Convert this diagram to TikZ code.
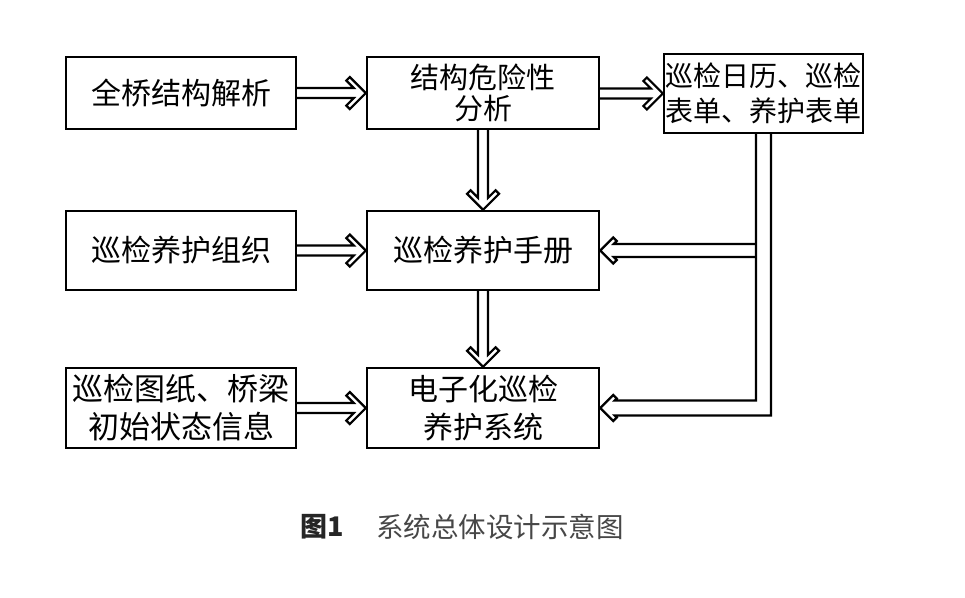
\documentclass[tikz,border=0pt]{standalone}
\usepackage{fontspec}
\newfontfamily\cjk{Noto Sans CJK SC}
\usetikzlibrary{calc}
\tikzset{
  box/.style={draw, line width=2.4pt, inner sep=0pt, align=center},
  arrline/.style={line width=2.2pt, line join=miter},
}
\newcommand\rarr[2]{%
\draw[arrline] ($(#1.east |- #2.west)+(0,-5)$) -- ($(#2.west)+(-12,-5)$) -- ($(#2.west)+(-19.5,-12.5)$) -- ($(#2.west)+(-16,-16)$) -- (#2.west) -- ($(#2.west)+(-16,16)$) -- ($(#2.west)+(-19.5,12.5)$) -- ($(#2.west)+(-12,5)$) -- ($(#1.east |- #2.west)+(0,5)$);}
\newcommand\darr[2]{%
\draw[arrline] ($(#1.south -| #2.north)+(-5,0)$) -- ($(#2.north)+(-5,-12)$) -- ($(#2.north)+(-12.5,-19.5)$) -- ($(#2.north)+(-16,-16)$) -- (#2.north) -- ($(#2.north)+(16,-16)$) -- ($(#2.north)+(12.5,-19.5)$) -- ($(#2.north)+(5,-12)$) -- ($(#1.south -| #2.north)+(5,0)$);}
\begin{document}
\begin{tikzpicture}[x=1pt,y=-1pt]
\useasboundingbox[fill=white] (0,0) rectangle (965,597);
\node[box, minimum width=230, minimum height=72, font=\cjk\fontsize{30}{31}\selectfont] (b1) at (181,93) {全桥结构解析};
\node[box, minimum width=232, minimum height=72, font=\cjk\fontsize{29}{31}\selectfont] (b2) at (483,93) {结构危险性\\分析};
\node[box, minimum width=199, minimum height=79, font=\cjk\fontsize{28}{35}\selectfont] (b3) at (763.5,93.5) {巡检日历、巡检\\表单、养护表单};
\node[box, minimum width=230, minimum height=79, font=\cjk\fontsize{30}{31}\selectfont] (b4) at (181,250.5) {巡检养护组织};
\node[box, minimum width=232, minimum height=79, font=\cjk\fontsize{30}{31}\selectfont] (b5) at (483,250.5) {巡检养护手册};
\node[box, minimum width=230, minimum height=80, font=\cjk\fontsize{31}{38}\selectfont] (b6) at (181,408) {巡检图纸、桥梁\\初始状态信息};
\node[box, minimum width=232, minimum height=80, font=\cjk\fontsize{30}{38}\selectfont] (b7) at (483,408) {电子化巡检\\养护系统};
\rarr{b1}{b2}
\rarr{b2}{b3}
\rarr{b4}{b5}
\rarr{b6}{b7}
\darr{b2}{b5}
\darr{b5}{b7}
% branch into b5
\draw[arrline] ($(b3.south |- b5.east)+(-7.5,-6.5)$) -- ($(b5.east)+(13.5,-6.5)$) -- ($(b5.east)+(16.5,-9.5)$) -- ($(b5.east)+(13,-13)$) -- (b5.east) -- ($(b5.east)+(13,13)$) -- ($(b5.east)+(16.5,9.5)$) -- ($(b5.east)+(13.5,6.5)$) -- ($(b3.south |- b5.east)+(-7.5,6.5)$);
% bent arrow from b3 to b7
\draw[arrline] ($(b3.south)+(7.5,0)$) -- ($(b3.south |- b7.east)+(7.5,7.5)$) -- ($(b7.east)+(14.5,7.5)$) -- ($(b7.east)+(16.5,9.5)$) -- ($(b7.east)+(13,13)$) -- (b7.east) -- ($(b7.east)+(13,-13)$) -- ($(b7.east)+(16.5,-9.5)$) -- ($(b7.east)+(14.5,-7.5)$) -- ($(b3.south |- b7.east)+(-7.5,-7.5)$) -- ($(b3.south)+(-7.5,0)$);
\node[font=\cjk\bfseries\fontsize{27}{27}\selectfont, text=black!85, anchor=west, inner sep=0pt] (fig) at (300,527) {图1};
\node[font=\cjk\fontsize{27.5}{27.5}\selectfont, text=black!72, anchor=west, inner sep=0pt] (cap) at (376,527) {系统总体设计示意图};
\end{tikzpicture}
\end{document}
